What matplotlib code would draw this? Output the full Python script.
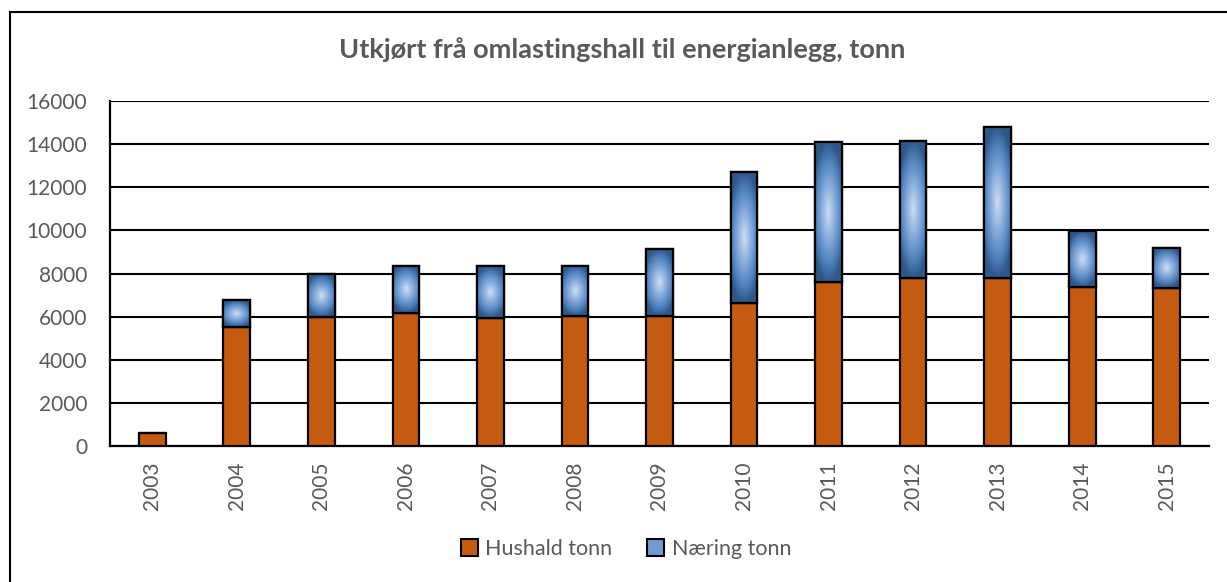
import numpy as np
import matplotlib
matplotlib.use("Agg")
import matplotlib.pyplot as plt
from matplotlib.colors import LinearSegmentedColormap
from matplotlib.patches import Patch
from matplotlib.lines import Line2D

years = ["2003", "2004", "2005", "2006", "2007", "2008", "2009",
         "2010", "2011", "2012", "2013", "2014", "2015"]
hushald = [580, 5500, 6000, 6150, 5950, 6040, 6010, 6620, 7620, 7800, 7800, 7390, 7310]
totals = [580, 6750, 7980, 8350, 8350, 8360, 9120, 12690, 14100, 14160, 14810, 9960, 9170]
naering = [t - h for t, h in zip(totals, hushald)]
yticks = [0, 2000, 4000, 6000, 8000, 10000, 12000, 14000, 16000]

TEXT = "#595959"
ORANGE = "#C55A11"
plt.rcParams['font.family'] = ['Lato', 'DejaVu Sans']

fig = plt.figure(figsize=(12.27, 5.82), dpi=100)
ax = fig.add_axes([110/1227, 1-446/582, (1209-110)/1227, (446-101)/582])

x = np.arange(len(years))
w = 0.315
ax.bar(x, hushald, w, color=ORANGE, edgecolor="black", linewidth=1.6, zorder=3)
blue = ax.bar(x, naering, w, bottom=hushald, color="#5b8bc9", edgecolor="black",
              linewidth=1.6, zorder=3)

cmap = LinearSegmentedColormap.from_list(
    "blu", [(0.0, "#cfdef2"), (0.45, "#7ea6d8"), (0.75, "#4f80bd"), (1.0, "#2f5888")])
gy, gx = np.mgrid[-1:1:120j, -1:1:60j]
r = np.clip(np.sqrt(gx**2 * 0.6 + gy**2), 0, 1)
for p, v in zip(blue.patches, naering):
    if v <= 0:
        continue
    x0, y0 = p.get_x(), p.get_y()
    im = ax.imshow(r, cmap=cmap, vmin=0, vmax=1, extent=(x0, x0 + p.get_width(), y0, y0 + p.get_height()),
                   aspect="auto", zorder=3.5, interpolation="bilinear")
    im.set_clip_path(p)
    ax.add_patch(plt.Rectangle((x0, y0), p.get_width(), p.get_height(), fill=False,
                               edgecolor="black", linewidth=1.6, zorder=4))

ax.set_xlim(-0.5, len(years) - 0.5)
ax.set_ylim(0, 16000)
ax.set_yticks(yticks)
ax.set_yticklabels([str(t) for t in yticks], fontsize=15, color=TEXT)
ax.set_xticks(x)
ax.set_xticklabels(years, rotation=90, fontsize=15, color=TEXT)
ax.tick_params(axis="both", length=0)
ax.tick_params(axis="y", pad=16.5)
ax.tick_params(axis="x", pad=11)
ax.yaxis.grid(True, color="black", linewidth=1.5, zorder=0)
ax.set_axisbelow(True)
for s in ["top", "right"]:
    ax.spines[s].set_visible(False)
for s in ["left", "bottom"]:
    ax.spines[s].set_color("black")
    ax.spines[s].set_linewidth(1.6)

fig.text(622/1227, 1-50/582, "Utkjørt frå omlastingshall til energianlegg, tonn",
         ha="center", va="center", fontsize=19.5, fontweight="bold", color=TEXT)

handles = [Patch(facecolor=ORANGE, edgecolor="black", linewidth=1.5),
           Patch(facecolor="#6f9bd2", edgecolor="black", linewidth=1.5)]
leg = fig.legend(handles, ["Hushald tonn", "Næring tonn"], loc="center",
                 bbox_to_anchor=(626/1227, 1-549/582), ncol=2, frameon=False,
                 fontsize=15.5, handlelength=0.8, handleheight=0.8, handletextpad=0.35,
                 columnspacing=1.6)
for t in leg.get_texts():
    t.set_color(TEXT)

fig.add_artist(Line2D([9.5/1227, 9.5/1227], [0, 1-12/582], transform=fig.transFigure,
                      color="black", linewidth=1.5))
fig.add_artist(Line2D([9.5/1227, 1], [1-12/582, 1-12/582], transform=fig.transFigure,
                      color="black", linewidth=1.5))

fig.savefig("out.png", dpi=100, facecolor="white")
